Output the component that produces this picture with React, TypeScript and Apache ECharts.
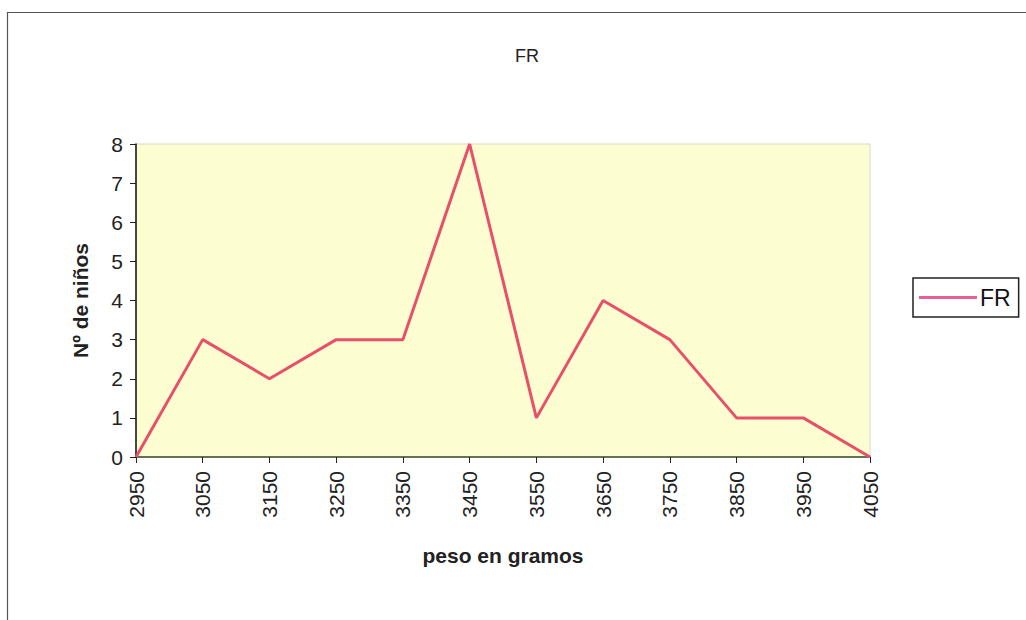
import React, { useEffect, useRef } from "react";
import * as echarts from "echarts";

const categories = ["2950", "3050", "3150", "3250", "3350", "3450", "3550", "3650", "3750", "3850", "3950", "4050"];
const frValues = [0, 3, 2, 3, 3, 8, 1, 4, 3, 1, 1, 0];
const seriesName = "FR";

export default function App() {
  const ref = useRef<HTMLDivElement>(null);
  useEffect(() => {
    document.body.style.margin = "0";
    const chart = echarts.init(ref.current!, null, { renderer: "svg" });
    const font = "'Liberation Sans', Arial, sans-serif";
    chart.setOption({
      animation: false,
      backgroundColor: "#ffffff",
      textStyle: { fontFamily: font },
      title: {
        text: "FR",
        left: 522,
        top: 42,
        textAlign: "center",
        textStyle: { fontSize: 18, fontWeight: "normal", color: "#222", fontFamily: font },
      },
      legend: {
        data: [seriesName],
        left: 913,
        top: 278,
        orient: "vertical",
        borderColor: "#222",
        borderWidth: 1.5,
        borderRadius: 0,
        padding: [8, 8, 8, 6],
        itemWidth: 58,
        itemHeight: 3,
        itemGap: 0,
        icon: "rect",
        textStyle: { fontSize: 23, color: "#111", fontFamily: font, padding: [0, 0, 0, -2] },
      },
      grid: {
        left: 136,
        right: 1026 - 870,
        top: 144,
        bottom: 620 - 457,
        show: true,
        backgroundColor: "#fdfdd2",
        borderColor: "#d8d8c8",
        borderWidth: 1,
      },
      xAxis: {
        type: "category",
        data: categories,
        boundaryGap: false,
        name: "peso en gramos",
        nameLocation: "middle",
        nameGap: 88,
        nameTextStyle: { fontSize: 21, fontWeight: "bold", color: "#222", fontFamily: font },
        axisLine: { lineStyle: { color: "#3a4a2a", width: 1.5 } },
        axisTick: { show: true, alignWithLabel: true, length: 6, lineStyle: { color: "#222" } },
        axisLabel: { rotate: 90, fontSize: 21, color: "#222", margin: 14, fontFamily: font },
        splitLine: { show: false },
      },
      yAxis: {
        type: "value",
        min: 0,
        max: 8,
        interval: 1,
        name: "Nº de niños",
        nameLocation: "middle",
        nameGap: 45,
        nameTextStyle: { fontSize: 21, fontWeight: "bold", color: "#222", fontFamily: font },
        axisLine: { show: true, lineStyle: { color: "#111", width: 1.5 } },
        axisTick: { show: true, length: 6, lineStyle: { color: "#222" } },
        axisLabel: { fontSize: 21, color: "#222", margin: 13, fontFamily: font },
        splitLine: { show: false },
      },
      graphic: [
        {
          type: "rect",
          shape: { x: 7.5, y: 12.5, width: 1030, height: 700 },
          style: { fill: "none", stroke: "#555", lineWidth: 1.2 },
          silent: true,
          z: -1,
        },
      ],
      series: [
        {
          name: seriesName,
          type: "line",
          data: frValues,
          symbol: "none",
          lineStyle: { color: "#e8506a", width: 3 },
          itemStyle: { color: "#e8609a" },
        },
      ],
    });
    return () => chart.dispose();
  }, []);
  return <div ref={ref} style={{ width: 1026, height: 620 }} />;
}
